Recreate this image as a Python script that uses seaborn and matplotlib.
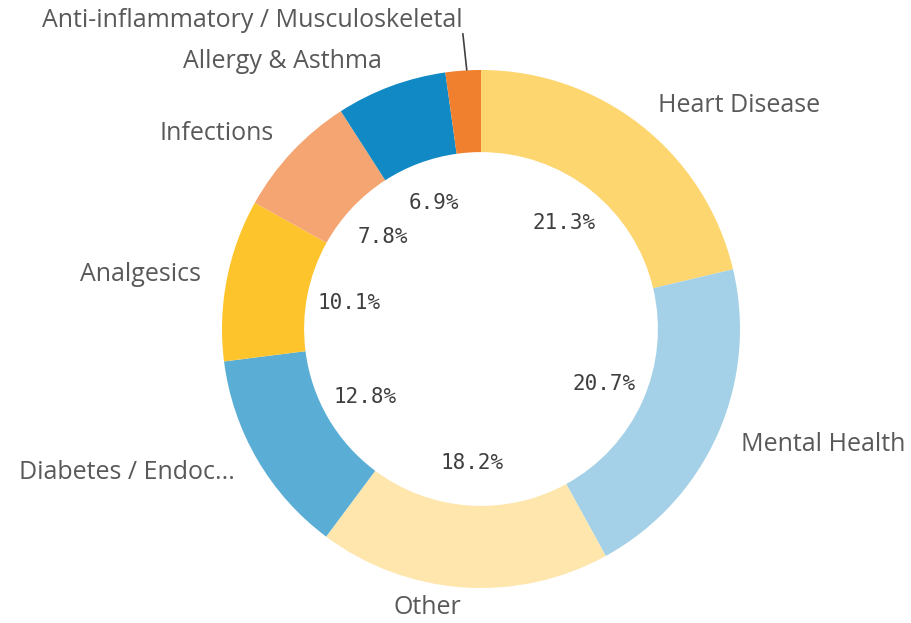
import matplotlib
matplotlib.use("Agg")
import matplotlib.pyplot as plt
import seaborn as sns

# slice data, clockwise from 12 o'clock
categories = ["Heart Disease", "Mental Health", "Other", "Diabetes / Endoc...",
              "Analgesics", "Infections", "Allergy & Asthma",
              "Anti-inflammatory / Musculoskeletal"]
shares = [21.3, 20.7, 18.2, 12.8, 10.1, 7.8, 6.9, 2.2]
colors = ["#FED66F", "#A4D1E7", "#FEE6AD", "#5AAED6",
          "#FEC42C", "#F4A572", "#1089C4", "#F07F2E"]

sns.set_theme(style="white")
plt.rcParams["font.family"] = ["Open Sans", "DejaVu Sans"]

W, H = 911, 623
cx, cy, R = 481, 329, 259  # pixel centre / outer radius

fig = plt.figure(figsize=(W / 100, H / 100), dpi=100)
ax = fig.add_axes([0, 0, 1, 1])

# hide the outer label of the tiny slice, it is drawn with a leader line below
pie_labels = categories[:-1] + [""]

wedges, texts, autotexts = ax.pie(
    shares,
    labels=pie_labels,
    colors=sns.color_palette(colors),
    startangle=90,
    counterclock=False,
    labeldistance=1.1,
    pctdistance=0.52,
    autopct=lambda p: f"{p:.1f}%" if p >= 3 else "",
    wedgeprops=dict(width=0.317, linewidth=0),
    textprops=dict(fontsize=18, color="#595959"),
)
for t in autotexts:
    t.set_fontfamily("DejaVu Sans Mono")
    t.set_fontsize(15)
    t.set_color("#3f3f3f")

# nudge the bottom label up so it stays inside the canvas
x, y = texts[2].get_position()
texts[2].set_position((x, y + 6 / R))

# leader line + label for the small slice
ax.plot([-0.055, -0.07], [1.0, 1.14], color="#404040", lw=1.2)
ax.text(-0.07, 1.19, categories[-1], ha="right", va="center",
        fontsize=18, color="#595959")

ax.set_xlim(-cx / R, (W - cx) / R)
ax.set_ylim(-(H - cy) / R, cy / R)
ax.set_aspect("auto")
ax.axis("off")

fig.savefig("out.png", dpi=100)
